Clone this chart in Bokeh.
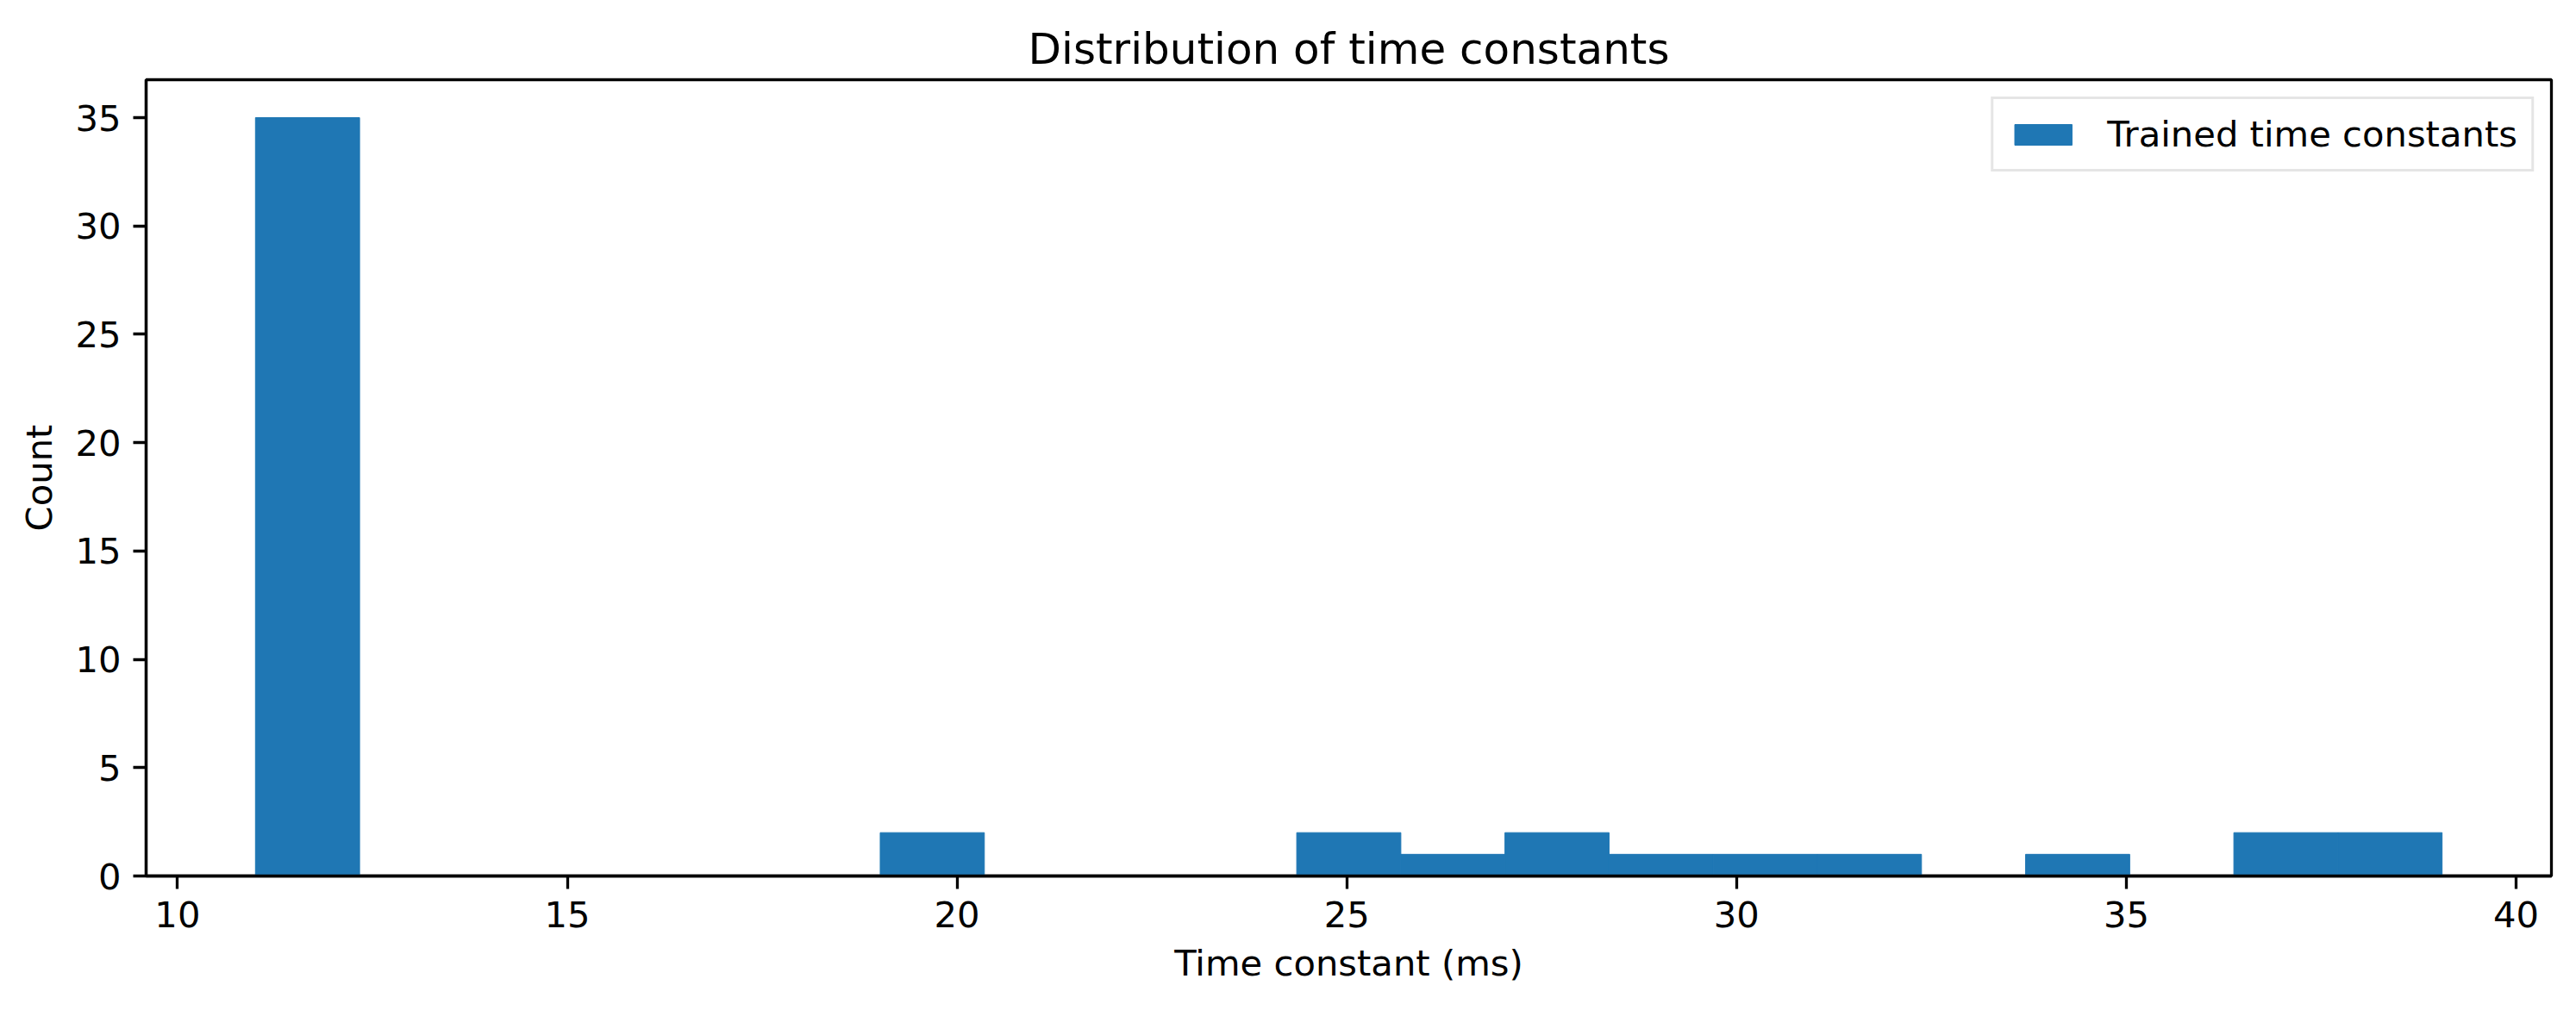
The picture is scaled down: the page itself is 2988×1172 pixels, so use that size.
import numpy as np
from bokeh.plotting import figure
from bokeh.models import Range1d, FixedTicker
from bokeh.embed import file_html
from bokeh.resources import INLINE

# Histogram data
bin_min = 11.0
bin_max = 39.05
n_bins = 21
counts = [35, 0, 0, 0, 0, 0, 2, 0, 0, 0, 2, 1, 2, 1, 1, 1, 0, 1, 0, 2, 2]
x_ticks = [10, 15, 20, 25, 30, 35, 40]
y_ticks = [0, 5, 10, 15, 20, 25, 30, 35]
title_text = "Distribution of time constants"
x_label = "Time constant (ms)"
y_label = "Count"
series_label = "Trained time constants"

edges = np.linspace(bin_min, bin_max, n_bins + 1)
span = bin_max - bin_min
x_lo, x_hi = bin_min - 0.05 * span, bin_max + 0.05 * span
y_hi = max(counts) * 1.05

FONT = "DejaVu Sans"
LW = 3.3
BLUE = "#1f77b4"

p = figure(width=2988, height=1172, output_backend="svg", toolbar_location=None,
           x_range=Range1d(x_lo, x_hi), y_range=Range1d(0, y_hi),
           min_border_left=169, min_border_right=29, min_border_top=92, min_border_bottom=156,
           title=title_text)

p.quad(left=edges[:-1], right=edges[1:], bottom=0, top=counts,
       fill_color=BLUE, line_color=BLUE, line_width=1, legend_label=series_label)

p.title.align = "center"
p.title.text_font = FONT
p.title.text_font_size = "50px"
p.title.text_font_style = "normal"
p.title.text_color = "black"
p.title.standoff = 14

p.xgrid.visible = False
p.ygrid.visible = False
p.outline_line_color = "black"
p.outline_line_width = LW
p.background_fill_color = "white"
p.border_fill_color = "white"

for ax in (p.xaxis[0], p.yaxis[0]):
    ax.axis_line_width = LW
    ax.axis_line_color = "black"
    ax.major_tick_line_width = LW
    ax.major_tick_out = 15
    ax.major_tick_in = 0
    ax.minor_tick_line_color = None
    ax.major_label_text_font = FONT
    ax.major_label_text_font_size = "41.7px"
    ax.major_label_text_color = "black"
    ax.major_label_standoff = 14
    ax.axis_label_text_font = FONT
    ax.axis_label_text_font_size = "41.7px"
    ax.axis_label_text_font_style = "normal"
    ax.axis_label_text_color = "black"

p.xaxis[0].ticker = FixedTicker(ticks=x_ticks)
p.yaxis[0].ticker = FixedTicker(ticks=y_ticks)
p.xaxis[0].axis_label = x_label
p.yaxis[0].axis_label = y_label
p.xaxis[0].axis_label_standoff = 14
p.yaxis[0].axis_label_standoff = 14

lg = p.legend[0]
lg.location = "top_right"
lg.margin = 20
lg.padding = 16
lg.border_line_color = "#cccccc"
lg.border_line_width = LW
lg.background_fill_color = "white"
lg.background_fill_alpha = 0.8
lg.glyph_width = 83
lg.glyph_height = 30
lg.label_standoff = 33
lg.label_text_font = FONT
lg.label_text_font_size = "41.7px"
lg.label_text_color = "black"
lg.label_height = 42

open("out.html", "w").write(file_html(p, INLINE))
